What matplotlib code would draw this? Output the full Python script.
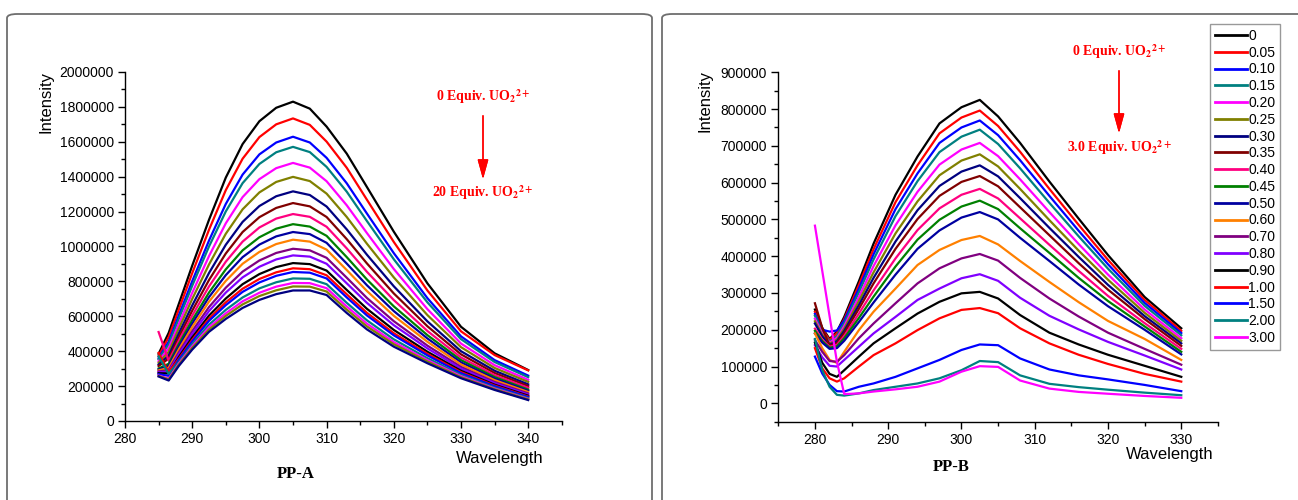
import matplotlib
matplotlib.use('Agg')
import matplotlib.pyplot as plt
from matplotlib.patches import FancyBboxPatch
from matplotlib.ticker import MultipleLocator

plt.rcParams['font.family'] = ['Liberation Sans', 'DejaVu Sans']
plt.rcParams['mathtext.fontset'] = 'stix'

# ---- PP-A : intensity in thousands, one row per addition (0 -> 20 equiv.)
wavelength_a = [285, 286.5, 288, 290, 292.5, 295, 297.5, 300, 302.5, 305,
                307.5, 310, 313, 316, 320, 325, 330, 335, 340]
intensity_a = [
    [385, 505, 670, 890, 1153, 1395, 1587, 1718, 1795, 1830, 1790, 1687, 1532, 1341, 1085, 789, 540, 388, 292],
    [373, 481, 638, 847, 1096, 1323, 1503, 1627, 1700, 1734, 1697, 1601, 1451, 1268, 1026, 748, 514, 378, 290],
    [361, 454, 604, 801, 1034, 1244, 1412, 1528, 1596, 1629, 1596, 1508, 1362, 1189, 962, 704, 485, 349, 260],
    [354, 440, 585, 775, 1000, 1201, 1363, 1473, 1540, 1571, 1541, 1456, 1314, 1146, 927, 680, 469, 338, 251],
    [343, 417, 555, 734, 945, 1133, 1283, 1386, 1449, 1479, 1452, 1374, 1236, 1077, 871, 641, 444, 320, 236],
    [333, 396, 529, 699, 897, 1073, 1213, 1310, 1370, 1399, 1375, 1303, 1169, 1016, 823, 607, 423, 304, 224],
    [323, 375, 501, 662, 848, 1010, 1141, 1232, 1288, 1316, 1295, 1229, 1098, 953, 772, 571, 400, 288, 210],
    [315, 358, 479, 632, 808, 960, 1083, 1168, 1221, 1249, 1230, 1169, 1042, 903, 731, 543, 382, 275, 200],
    [510, 345, 459, 604, 771, 913, 1028, 1109, 1160, 1186, 1170, 1113, 989, 855, 693, 516, 364, 263, 190],
    [301, 328, 440, 578, 736, 869, 978, 1053, 1102, 1128, 1114, 1061, 939, 811, 657, 492, 349, 252, 180],
    [295, 317, 425, 558, 710, 836, 939, 1011, 1058, 1083, 1071, 1021, 902, 778, 630, 473, 336, 243, 173],
    [290, 305, 410, 538, 684, 803, 901, 969, 1014, 1039, 1028, 982, 865, 745, 603, 454, 324, 234, 166],
    [284, 292, 393, 515, 653, 764, 856, 920, 963, 987, 978, 935, 821, 705, 572, 432, 310, 224, 158],
    [279, 283, 381, 498, 630, 736, 823, 884, 926, 949, 942, 901, 789, 677, 549, 416, 300, 217, 152],
    [274, 272, 366, 479, 604, 702, 784, 842, 882, 905, 899, 862, 751, 643, 522, 397, 288, 208, 145],
    [390, 280, 357, 465, 586, 680, 758, 814, 852, 875, 870, 835, 726, 620, 503, 385, 280, 203, 140],
    [268, 259, 350, 456, 574, 664, 740, 794, 832, 854, 850, 817, 708, 605, 491, 376, 274, 199, 137],
    [370, 270, 338, 440, 552, 637, 708, 760, 795, 817, 815, 784, 677, 577, 468, 360, 264, 191, 131],
    [260, 243, 329, 428, 537, 617, 686, 735, 770, 791, 790, 761, 656, 558, 452, 349, 257, 186, 127],
    [258, 238, 322, 419, 524, 602, 668, 716, 749, 771, 770, 742, 638, 542, 440, 341, 251, 182, 124],
    [255, 232, 315, 409, 511, 585, 648, 694, 727, 748, 748, 722, 619, 525, 426, 331, 245, 178, 120],
]

# ---- PP-B : intensity in thousands, one row per legend entry
wavelength_b = [280, 281, 282, 283, 284, 286, 288, 291, 294, 297, 300, 302.5,
                305, 308, 312, 316, 320, 325, 330]
labels_b = ['0', '0.05', '0.10', '0.15', '0.20', '0.25', '0.30', '0.35', '0.40',
            '0.45', '0.50', '0.60', '0.70', '0.80', '0.90', '1.00', '1.50', '2.00', '3.00']
intensity_b = [
    [255, 205, 175, 195, 235, 332, 434, 567, 671, 761, 805, 825, 780, 708, 603, 502, 403, 289, 204],
    [249, 201, 172, 191, 229, 322, 419, 547, 647, 734, 777, 796, 754, 684, 583, 485, 390, 281, 197],
    [243, 200, 195, 198, 225, 312, 405, 528, 625, 708, 750, 769, 729, 661, 564, 469, 378, 273, 191],
    [238, 194, 168, 183, 218, 302, 391, 509, 604, 683, 725, 744, 705, 639, 545, 454, 366, 265, 185],
    [230, 190, 165, 178, 210, 289, 373, 484, 575, 649, 690, 708, 672, 609, 520, 433, 350, 255, 177],
    [223, 186, 162, 173, 203, 278, 356, 462, 549, 620, 660, 677, 644, 583, 498, 415, 336, 246, 170],
    [217, 182, 159, 169, 197, 267, 341, 440, 525, 591, 630, 647, 617, 558, 477, 398, 322, 237, 163],
    [272, 205, 157, 164, 191, 257, 326, 420, 501, 564, 602, 618, 590, 533, 457, 381, 309, 229, 156],
    [203, 173, 154, 159, 183, 244, 307, 394, 471, 530, 567, 583, 557, 503, 431, 360, 292, 218, 148],
    [197, 169, 151, 155, 177, 232, 290, 372, 445, 499, 535, 551, 528, 476, 409, 341, 278, 209, 140],
    [190, 165, 148, 150, 170, 221, 274, 350, 420, 470, 505, 520, 500, 450, 387, 323, 264, 200, 133],
    [190, 150, 118, 110, 140, 199, 249, 312, 376, 417, 444, 455, 432, 387, 330, 275, 224, 175, 118],
    [172, 140, 115, 113, 131, 177, 217, 272, 326, 367, 394, 406, 388, 341, 285, 236, 192, 148, 105],
    [158, 125, 102, 100, 118, 154, 190, 235, 281, 312, 340, 351, 333, 287, 238, 201, 167, 130, 92],
    [165, 110, 80, 72, 90, 127, 163, 204, 244, 276, 299, 303, 285, 240, 192, 160, 132, 102, 72],
    [150, 95, 68, 59, 68, 100, 131, 163, 199, 231, 254, 259, 245, 204, 163, 132, 107, 80, 59],
    [127, 81, 50, 33, 32, 45, 54, 72, 95, 118, 145, 160, 158, 122, 92, 76, 65, 50, 33],
    [175, 90, 45, 23, 21, 27, 36, 45, 54, 68, 90, 115, 112, 76, 53, 44, 37, 29, 22],
    [483, 360, 237, 113, 25, 27, 32, 38, 45, 59, 86, 101, 99, 62, 40, 31, 26, 20, 15],
]

# tick values (thousands) and the labels shown
yticks_a = [0, 200, 400, 600, 800, 1000, 1200, 1400, 1600, 1800, 2000]
ylabels_a = ['0', '200000', '400000', '600000', '800000', '1000000', '1200000',
             '1400000', '1600000', '1800000', '2000000']
yticks_b = [0, 100, 200, 300, 400, 500, 600, 700, 800, 900]
ylabels_b = ['0', '100000', '200000', '300000', '400000', '500000', '600000',
             '700000', '800000', '900000']

# origin-like colour cycle
colors = ['#000000', '#FF0000', '#0000FF', '#008080', '#FF00FF', '#808000', '#000080',
          '#800000', '#FF0080', '#008000', '#0000A0', '#FF8000', '#800080', '#8000FF']

W, H = 1298, 500


def fx(px):
    return px / W


def fy(py):
    return 1 - py / H


fig = plt.figure(figsize=(12.98, 5.0), dpi=100)

# panel frames
for x0, x1 in [(7, 652), (662, 1320)]:
    frame = FancyBboxPatch((fx(x0), fy(530)), fx(x1 - x0), (530 - 14) / H,
                           boxstyle='round,pad=0,rounding_size=0.008',
                           transform=fig.transFigure, fill=False,
                           ec='#6e6e6e', lw=1.3)
    fig.patches.append(frame)


def style_axes(ax):
    for s in ['top', 'right']:
        ax.spines[s].set_visible(False)
    for s in ['left', 'bottom']:
        ax.spines[s].set_linewidth(1.0)
    ax.tick_params(which='major', direction='out', length=5, width=1,
                   labelsize=10, pad=3)
    ax.tick_params(which='minor', direction='out', length=3, width=1)
    ax.xaxis.set_minor_locator(MultipleLocator(5))


# left panel
ax_a = fig.add_axes([fx(125), fy(421), fx(561.8 - 125), 349 / H])
for i, row in enumerate(intensity_a):
    ax_a.plot(wavelength_a, row, color=colors[i % len(colors)], lw=1.6)
ax_a.set_xlim(280, 345)
ax_a.set_ylim(0, 2000)
ax_a.set_xticks(range(280, 341, 10))
ax_a.set_yticks(yticks_a, ylabels_a)
ax_a.yaxis.set_minor_locator(MultipleLocator(100))
style_axes(ax_a)

# right panel
ax_b = fig.add_axes([fx(778.3), fy(421.7), fx(1217.9 - 778.3), (421.7 - 72.3) / H])
lines_b = []
for i, row in enumerate(intensity_b):
    ln, = ax_b.plot(wavelength_b, row, color=colors[i % len(colors)], lw=1.6)
    lines_b.append(ln)
ax_b.set_xlim(275, 335)
ax_b.set_ylim(-50, 900)
ax_b.set_xticks(range(280, 331, 10))
ax_b.set_yticks(yticks_b, ylabels_b)
ax_b.yaxis.set_minor_locator(MultipleLocator(50))
style_axes(ax_b)

leg = fig.legend(lines_b, labels_b, loc='upper left',
                 bbox_to_anchor=(fx(1210), fy(24)), bbox_transform=fig.transFigure,
                 fontsize=10, frameon=True, fancybox=False, borderpad=0.35,
                 labelspacing=0.2, handlelength=2.3, handletextpad=0.1,
                 borderaxespad=0)
leg.get_frame().set_edgecolor('#808080')
leg.get_frame().set_linewidth(1.0)
for h in leg.get_lines():
    h.set_linewidth(2.0)

# axis titles, Origin style
fig.text(fx(46), fy(102), 'Intensity', rotation=90, ha='center', va='center', fontsize=12)
fig.text(fx(500), fy(458), 'Wavelength', ha='center', va='center', fontsize=12)
fig.text(fx(705), fy(101), 'Intensity', rotation=90, ha='center', va='center', fontsize=12)
fig.text(fx(1170), fy(455), 'Wavelength', ha='center', va='center', fontsize=12)

serif = ['Liberation Serif', 'DejaVu Serif']
fig.text(fx(296), fy(474), 'PP-A', ha='center', va='center', fontsize=12,
         fontweight='bold', family=serif)
fig.text(fx(951), fy(467), 'PP-B', ha='center', va='center', fontsize=12,
         fontweight='bold', family=serif)

# titration arrows
uo2 = r'UO$_{\mathbf{2}}$$^{\mathbf{2+}}$'
notes = [
    (483, 97, '0 Equiv. ' + uo2, 113, 182, '20 Equiv. ' + uo2, 193),
    (1119, 52, '0 Equiv. ' + uo2, 68, 136, '3.0 Equiv. ' + uo2, 148),
]
for x, y_top, t_top, y0, y1, t_bot, y_bot in notes:
    fig.text(fx(x), fy(y_top), t_top, ha='center', va='center', fontsize=10,
             color='#FF0000', fontweight='bold', family=serif)
    fig.text(fx(x), fy(y_bot), t_bot, ha='center', va='center', fontsize=10,
             color='#FF0000', fontweight='bold', family=serif)
    fig.add_artist(plt.annotate('', xy=(fx(x), fy(y1)), xytext=(fx(x), fy(y0)),
                                xycoords='figure fraction', textcoords='figure fraction',
                                arrowprops=dict(arrowstyle='-|>,head_length=1.2,head_width=0.33',
                                                color='#FF0000', lw=1.0, mutation_scale=10)))

fig.savefig('out.png', dpi=100)
